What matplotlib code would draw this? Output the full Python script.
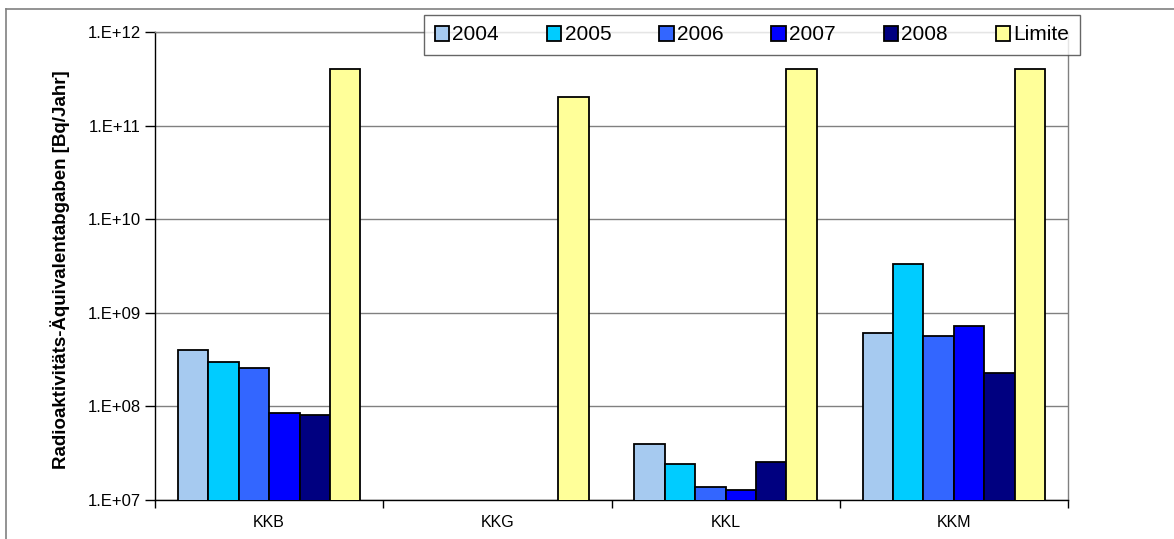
import numpy as np
import matplotlib
matplotlib.use("Agg")
import matplotlib.pyplot as plt
from matplotlib.lines import Line2D
from matplotlib.ticker import FixedLocator, FixedFormatter

plt.rcParams['font.family'] = ['Liberation Sans', 'DejaVu Sans']

categories = ["KKB", "KKG", "KKL", "KKM"]
series_names = ["2004", "2005", "2006", "2007", "2008", "Limite"]
v2004 = [4.0e8, np.nan, 3.95e7, 6.1e8]
v2005 = [3.0e8, np.nan, 2.4e7, 3.3e9]
v2006 = [2.6e8, np.nan, 1.37e7, 5.7e8]
v2007 = [8.5e7, np.nan, 1.28e7, 7.2e8]
v2008 = [8.0e7, np.nan, 2.55e7, 2.3e8]
limite = [4.0e11, 2.0e11, 4.0e11, 4.0e11]
series_values = [v2004, v2005, v2006, v2007, v2008, limite]
colors = ["#A6CAF0", "#00CCFF", "#3366FF", "#0000FF", "#000080", "#FFFF99"]
ytick_vals = [1e7, 1e8, 1e9, 1e10, 1e11, 1e12]
ytick_labels = ["1.E+07", "1.E+08", "1.E+09", "1.E+10", "1.E+11", "1.E+12"]
ylabel = "Radioaktivitäts-Äquivalentabgaben [Bq/Jahr]"

W, H = 1174, 539
fig = plt.figure(figsize=(W / 100, H / 100), dpi=100)
ax = fig.add_axes([155 / W, (H - 500) / H, (1068 - 155) / W, (500 - 32) / H])
ax.set_yscale('log')
ax.set_ylim(1e7, 1e12)
ax.set_xlim(-0.5, len(categories) - 0.5)

n = len(series_names)
bw = 1.0 / (n + 1.5)
x = np.arange(len(categories))
for i, (name, vals, c) in enumerate(zip(series_names, series_values, colors)):
    ax.bar(x + (i - (n - 1) / 2) * bw, vals, width=bw, bottom=0, color=c,
           edgecolor='black', linewidth=1.3, label=name, zorder=3)

ax.yaxis.set_major_locator(FixedLocator(ytick_vals))
ax.yaxis.set_major_formatter(FixedFormatter(ytick_labels))
ax.yaxis.set_minor_locator(FixedLocator([]))
ax.grid(axis='y', which='major', color='#808080', linewidth=1.0, zorder=0)
ax.set_axisbelow(True)
ax.tick_params(axis='y', which='major', direction='out', length=7, width=1,
               labelsize=12, pad=3, color='black')

ax.set_xticks(x)
ax.set_xticklabels(categories, fontsize=11.5)
ax.tick_params(axis='x', which='major', length=0, pad=11)
ax.set_xticks(np.arange(-0.5, len(categories)), minor=True)
ax.tick_params(axis='x', which='minor', direction='out', length=6, width=1, color='black')

for s in ['left', 'bottom']:
    ax.spines[s].set_color('black')
    ax.spines[s].set_linewidth(1.0)
for s in ['right', 'top']:
    ax.spines[s].set_color('#808080')
    ax.spines[s].set_linewidth(1.0)

ax.set_ylabel(ylabel, fontsize=13.5, fontweight='bold')
ax.yaxis.set_label_coords(60 / W, 0.5, transform=fig.transFigure)
ax.yaxis.label.set_va('center')

leg = ax.legend(loc='center', bbox_to_anchor=(752 / W, 1 - 35 / H),
                bbox_transform=fig.transFigure, ncol=6, fontsize=15,
                handlelength=0.7, handleheight=0.7, handletextpad=0.15,
                columnspacing=2.3, frameon=True, fancybox=False,
                borderpad=0.5, borderaxespad=0)
leg.get_frame().set_edgecolor('#404040')
leg.get_frame().set_linewidth(1.0)
leg.set_zorder(10)

# outer chart border
fig.add_artist(Line2D([6 / W, 1.01], [1 - 9 / H, 1 - 9 / H], transform=fig.transFigure,
                      color='#808080', linewidth=1.2))
fig.add_artist(Line2D([6 / W, 6 / W], [-0.01, 1 - 9 / H], transform=fig.transFigure,
                      color='#808080', linewidth=1.2))

fig.savefig("out.png", dpi=100)
